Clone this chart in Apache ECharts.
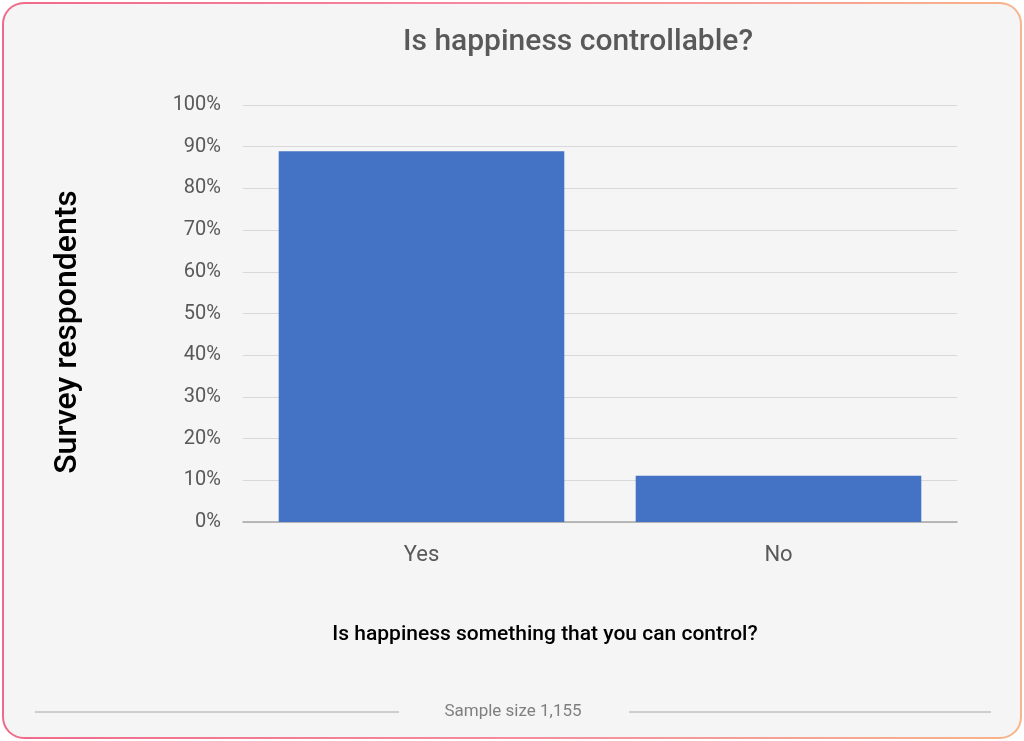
<!DOCTYPE html>
<html><head><meta charset="utf-8">
<script src="https://cdn.jsdelivr.net/npm/echarts@6/dist/echarts.min.js"></script>
<style>html,body{margin:0;padding:0;background:#fff}
#wrap{position:absolute;left:2px;top:2px;width:1016px;height:733px;border-radius:22px;padding:2px;background:linear-gradient(90deg,#f06a8a,#f58aa0 50%,#f8b48a);}
#c{width:1016px;height:733px;background:#f5f5f5;border-radius:20px;}
</style></head><body>
<div id="wrap"><div id="c"></div></div>
<script>
const categories=['Yes','No'];
const values=[88.9,11.1];
const chart=echarts.init(document.getElementById('c'));
chart.setOption({
 animation:false,
 grid:{left:239,right:63,top:101,bottom:215},
 xAxis:{type:'category',data:categories,axisTick:{show:false},axisLine:{lineStyle:{color:'#a6a6a6',width:1.5}},
  axisLabel:{fontFamily:'Roboto',fontSize:22,color:'#595959',margin:22}},
 yAxis:{type:'value',min:0,max:100,interval:10,axisLabel:{formatter:'{value}%',fontFamily:'Roboto',fontSize:20,color:'#595959',margin:22},
  splitLine:{lineStyle:{color:'#d9d9d9'}}},
 series:[{type:'bar',data:values,barWidth:'80%',itemStyle:{color:'#4472c4'}}],
 graphic:[
  {type:'text',x:574,y:38,style:{text:'Is happiness controllable?',align:'center',verticalAlign:'middle',font:'500 30px Roboto',fill:'#595959'}},
  {type:'text',x:541,y:631,style:{text:'Is happiness something that you can control?',align:'center',verticalAlign:'middle',font:'500 21px Roboto',fill:'#000'}},
  {type:'text',x:64,y:328,rotation:Math.PI/2,style:{text:'Survey respondents',align:'center',verticalAlign:'middle',font:'500 32px Roboto',fill:'#000'}},
  {type:'line',shape:{x1:31,y1:708,x2:395,y2:708},style:{stroke:'#a6a6a6',lineWidth:1}},
  {type:'line',shape:{x1:625,y1:708,x2:987,y2:708},style:{stroke:'#a6a6a6',lineWidth:1}},
  {type:'text',x:509,y:708,style:{text:'Sample size 1,155',align:'center',verticalAlign:'middle',font:'17px Roboto',fill:'#7f7f7f'}}
 ]
});
</script></body></html>
